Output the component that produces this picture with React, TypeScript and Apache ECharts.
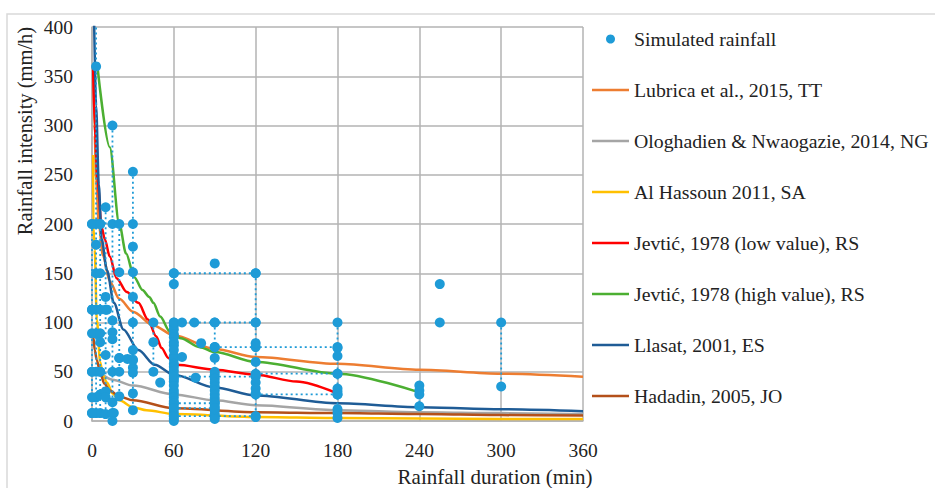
import React, { useEffect, useRef } from "react";
import * as echarts from "echarts";

const FONT = "Liberation Serif";

// Simulated rainfall events: each path is a chain of points joined by a dotted line
const simulatedPaths: [number, number][][] = [
  [[3, 430], [3, 360], [3, 200], [3, 179], [3, 150], [3, 113], [3, 89], [3, 50], [3, 24], [3, 8]],
  [[0, 200], [0, 113], [0, 89], [0, 50], [0, 24], [0, 8]],
  [[0, 200], [6, 200]],
  [[6, 200], [6, 150], [6, 113], [6, 89], [6, 80], [6, 50], [6, 27], [6, 8]],
  [[0, 113], [11, 113]],
  [[0, 50], [6, 50]],
  [[0, 8], [16, 8]],
  [[10, 217], [10, 126], [10, 113], [10, 67], [10, 30], [10, 24], [10, 7]],
  [[15, 300], [15, 200], [15, 102], [15, 90], [15, 83], [15, 50], [15, 19], [15, 8], [15, 0]],
  [[20, 200], [20, 151], [20, 64], [20, 50], [20, 25]],
  [[30, 253], [30, 200], [30, 177], [30, 151], [30, 126], [30, 100], [30, 72], [30, 62], [30, 54], [30, 49], [30, 28], [30, 11]],
  [[20, 64], [26, 63], [30, 62]],
  [[45, 100], [45, 80], [45, 50]],
  [[50, 39]],
  [[60, 150], [60, 139]],
  [[60, 100], [60, 97], [60, 93], [60, 88], [60, 85], [60, 80], [60, 77], [60, 72], [60, 66], [60, 63], [60, 58], [60, 55], [60, 51], [60, 47], [60, 43], [60, 40], [60, 36], [60, 31], [60, 28], [60, 24], [60, 20], [60, 17], [60, 13], [60, 9], [60, 5], [60, 2], [60, 0]],
  [[60, 150], [120, 150]],
  [[60, 100], [66, 100], [75, 100], [90, 100], [120, 100]],
  [[66, 65]],
  [[80, 79]],
  [[76, 44]],
  [[90, 160]],
  [[90, 100], [90, 75], [90, 64], [90, 50], [90, 47], [90, 43], [90, 39], [90, 35], [90, 31], [90, 27], [90, 23], [90, 19], [90, 15], [90, 11], [90, 7], [90, 4], [90, 2]],
  [[90, 75], [120, 75], [180, 75]],
  [[60, 45], [120, 45]],
  [[120, 48], [180, 48]],
  [[120, 27], [180, 27]],
  [[60, 18], [90, 18]],
  [[60, 13], [90, 13]],
  [[60, 5], [120, 5]],
  [[120, 150], [120, 100], [120, 79], [120, 60], [120, 47], [120, 39], [120, 33], [120, 28], [120, 4]],
  [[180, 100], [180, 74], [180, 66], [180, 48], [180, 33], [180, 30], [180, 27], [180, 12], [180, 8], [180, 3]],
  [[240, 36], [240, 31], [240, 27], [240, 15]],
  [[255, 139]],
  [[255, 100]],
  [[300, 100], [300, 35]],
];

// IDF curves: [duration (min), intensity (mm/h)]
const lubrica: [number, number][] = [[1, 362], [2, 290], [3, 245], [5, 200], [8, 168], [13, 142], [20, 124], [30, 111], [45, 97], [60, 87], [90, 73], [120, 65], [180, 58], [240, 52], [300, 48], [360, 45]];
const ologhadien: [number, number][] = [[7, 48], [15, 42], [30, 36], [60, 27], [90, 21], [120, 16], [180, 11], [240, 9], [300, 8], [360, 7]];
const alHassoun: [number, number][] = [[0.8, 270], [1, 197], [2, 174], [3.5, 103], [6, 60], [8, 46], [11, 39], [15, 28], [20, 21], [30, 14], [40, 11], [60, 7], [120, 4], [180, 3], [240, 2.5], [300, 2], [360, 2]];
const jevticLow: [number, number][] = [[0.8, 361], [2, 300], [4, 245], [7, 197], [9.5, 184], [13, 167], [18, 145], [25.5, 131], [34, 120], [41, 103], [47, 86], [51, 74], [56, 64], [62, 57], [90, 52], [120, 47], [150, 40], [178, 29]];
const jevticHigh: [number, number][] = [[4, 360], [13, 278], [20, 200], [25, 170], [31, 146], [37, 133], [42, 126], [45, 120], [50, 106], [57, 91], [65, 84], [79, 75], [90, 70], [120, 60], [180, 48], [240, 29]];
const llasat: [number, number][] = [[1.5, 410], [3, 320], [5, 240], [7, 185], [11, 153], [16, 120], [23, 93], [34, 72], [46, 57], [60, 47], [90, 34], [120, 26], [180, 18], [240, 14], [300, 12], [360, 10]];
const hadadin: [number, number][] = [[0.5, 90], [1, 85], [2, 72], [3.5, 62], [6, 49], [9, 38], [13, 31], [20, 25], [30, 21], [60, 13], [120, 9], [180, 8], [240, 7], [300, 6], [360, 5.5]];

const curveNames = [
  "Lubrica et al., 2015, TT",
  "Ologhadien & Nwaogazie, 2014, NG",
  "Al Hassoun 2011, SA",
  "Jevtić, 1978 (low value), RS",
  "Jevtić, 1978 (high value), RS",
  "Llasat, 2001, ES",
  "Hadadin, 2005, JO",
];
const curveData = [lubrica, ologhadien, alHassoun, jevticLow, jevticHigh, llasat, hadadin];
const curveColors = ["#ED7D31", "#A5A5A5", "#FFC000", "#FF0000", "#4CAF32", "#1F5C96", "#B4501A"];
const simName = "Simulated rainfall";
const simColor = "#1E9BD7";

const LINE_ICON = "path://M0,0L40,0L40,2.7L0,2.7Z";

export default function App() {
  const ref = useRef<HTMLDivElement>(null);
  useEffect(() => {
    if (!ref.current) return;
    const chart = echarts.init(ref.current, undefined, { renderer: "svg" });
    const simData: any[] = [];
    simulatedPaths.forEach((p) => {
      p.forEach((pt) => simData.push(pt));
      simData.push(["-", "-"]);
    });
    const series: any[] = [
      {
        name: simName,
        type: "line",
        data: simData,
        connectNulls: false,
        symbol: "circle",
        symbolSize: 10,
        showSymbol: true,
        showAllSymbol: true,
        itemStyle: { color: simColor },
        lineStyle: { color: simColor, width: 1.8, type: [2, 3] },
        z: 5,
        clip: true,
      },
      ...curveNames.map((n, i) => ({
        name: n,
        type: "line",
        data: curveData[i],
        smooth: 0.3,
        smoothMonotone: "x",
        symbol: "none",
        itemStyle: { color: curveColors[i] },
        lineStyle: { color: curveColors[i], width: 2.5 },
        z: 3,
        clip: true,
      })),
    ];
    chart.setOption({
      animation: false,
      backgroundColor: "#ffffff",
      textStyle: { fontFamily: FONT },
      grid: { left: 92, top: 27, width: 491, height: 394, containLabel: false },
      xAxis: {
        type: "value",
        min: 0,
        max: 360,
        interval: 60,
        axisLine: { show: true, lineStyle: { color: "#b3b3b3", width: 1.5 } },
        axisTick: { show: false },
        axisLabel: { color: "#222", fontSize: 19.5, fontFamily: FONT, margin: 19 },
        splitLine: { show: true, lineStyle: { color: "#b3b3b3", width: 1.5 } },
      },
      yAxis: {
        type: "value",
        min: 0,
        max: 400,
        interval: 50,
        axisLine: { show: true, lineStyle: { color: "#b3b3b3", width: 1.5 } },
        axisTick: { show: false },
        axisLabel: { color: "#222", fontSize: 19.5, fontFamily: FONT, margin: 19 },
        splitLine: { show: true, lineStyle: { color: "#b3b3b3", width: 1.5 } },
      },
      legend: {
        orient: "vertical",
        left: 592,
        top: 29,
        padding: 0,
        itemWidth: 37,
        itemHeight: 9,
        itemGap: 31,
        selectedMode: false,
        textStyle: { fontSize: 19.8, fontFamily: FONT, color: "#222", lineHeight: 20 },
        data: [
          { name: simName, icon: "circle" },
          ...curveNames.map((n) => ({ name: n, icon: LINE_ICON })),
        ],
      },
      graphic: [
        {
          type: "rect",
          shape: { x: 7, y: 14, width: 1200, height: 1000 },
          style: { fill: "none", stroke: "#d9d9d9", lineWidth: 1.5 },
          silent: true,
          z: -10,
        },
        {
          type: "text",
          x: 25,
          y: 131,
          rotation: Math.PI / 2,
          style: {
            text: "Rainfall intensity (mm/h)",
            fontSize: 20.5,
            fontFamily: FONT,
            fill: "#222",
            align: "center",
            verticalAlign: "middle",
          },
        },
        {
          type: "text",
          x: 495,
          y: 477,
          style: {
            text: "Rainfall duration (min)",
            fontSize: 21,
            fontFamily: FONT,
            fill: "#222",
            align: "center",
            verticalAlign: "middle",
          },
        },
      ],
      series,
    });
    return () => chart.dispose();
  }, []);
  return (
    <div
      ref={ref}
      style={{ position: "absolute", left: 0, top: 0, width: 935, height: 488 }}
    />
  );
}
